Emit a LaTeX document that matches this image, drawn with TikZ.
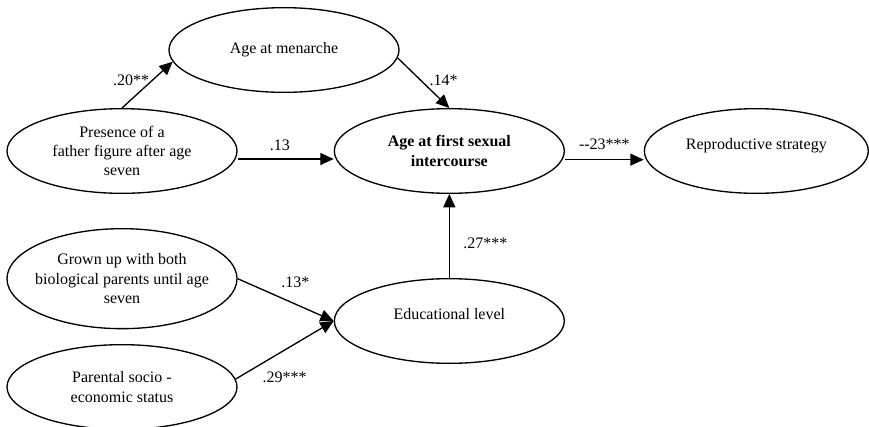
\documentclass[tikz,border=0pt]{standalone}
\usepackage{fontspec}
\setmainfont{Liberation Serif}
\usetikzlibrary{shapes.geometric, arrows.meta, positioning}

\begin{document}
\begin{tikzpicture}[node distance=63pt, >={Triangle[length=10pt, width=9pt]}, line width=1pt,
    var/.style={draw, ellipse, minimum width=172.5pt, minimum height=63.5pt, inner sep=0pt, inner xsep=-5pt, align=center, font=\fontsize{12pt}{14.5pt}\selectfont},
    coef/.style={font=\fontsize{12pt}{14.5pt}\selectfont, inner sep=2pt}]
                \useasboundingbox (-91.5pt,-206.25pt) rectangle (560.25pt,113.25pt);

                % Nodes
                \node[var] (pres) {Presence of a\\father figure after age\\seven};
                \node[var] (first) [right=72pt of pres] {\textbf{Age at first sexual}\\\textbf{intercourse}};
                \node[var, minimum width=168pt, text depth=10pt] (repro) [right=59pt of first] {Reproductive strategy};
                \node[var] (men) [above=11.25pt of pres, xshift=121.5pt] {Age at menarche};
                \node[var, text depth=10pt] (edu) [below=of first] {Educational level};
                \node[var, minimum height=75pt] (grown) [below=25.5pt of pres] {Grown up with both\\biological parents until age\\seven};
                \node[var] (par) [below=11pt of grown] {Parental socio -\\economic status};

                % Edges
                \draw[->] (pres.north) -- (men.186) node[coef, pos=0.6, left] (pm) {.20**};
                \draw[->] (men.-4) -- (first.north) node[coef, pos=0.45, right=4pt] (mf) {.14*};
                \draw[->] ([yshift=-6pt]pres.east) -- ([yshift=-6pt]first.west) node[coef, pos=0.44, above=4pt] (pf) {.13};
                \draw[->] ([yshift=-6.5pt]first.east) -- ([yshift=-6.5pt]repro.west) node[coef, pos=0.5, above=5pt] (fr) {-{}-23***};
                \draw[->] (edu) -- (first) node[coef, pos=0.41, right=8pt] (ef) {.27***};
                \draw[->] (grown.east) -- (edu.west) node[coef, pos=0.6, above=10pt] (ge) {.13*};
                \draw[->] (par.4) -- (edu.west) node[coef, pos=0.5, below=14pt] (pe) {.29***};
\end{tikzpicture}
\end{document}
